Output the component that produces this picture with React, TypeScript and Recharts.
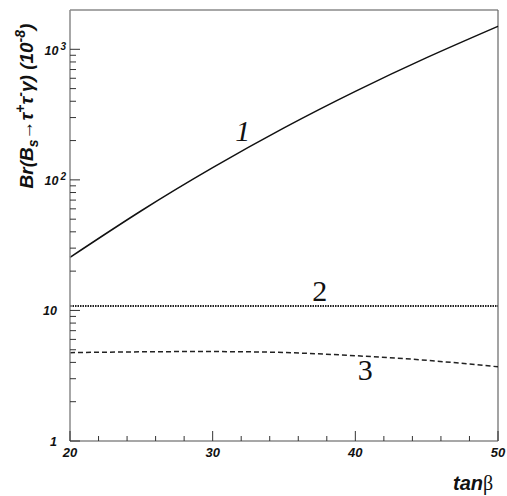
import React from 'react';
import {
  LineChart,
  Line,
  XAxis,
  YAxis,
  ReferenceLine,
  ReferenceDot,
} from 'recharts';

// values (log scale, units of 1e-8)
const tanBeta = [20, 25, 30, 35, 40, 45, 50];
const curve1 = [25.5, 58, 124, 250, 476, 863, 1500];
const curve2 = [10.8, 10.8, 10.8, 10.8, 10.8, 10.8, 10.8];
const curve3 = [4.75, 4.82, 4.84, 4.76, 4.5, 4.15, 3.7];

const xTicks = [20, 22, 24, 26, 28, 30, 32, 34, 36, 38, 40, 42, 44, 46, 48, 50];
const yTicks = [
  1, 2, 3, 4, 5, 6, 7, 8, 9,
  10, 20, 30, 40, 50, 60, 70, 80, 90,
  100, 200, 300, 400, 500, 600, 700, 800, 900,
  1000,
];

const curveLabels = [
  { text: '1', x: 32.1, y: 237, italic: true },
  { text: '2', x: 37.5, y: 14.2, italic: false },
  { text: '3', x: 40.7, y: 3.48, italic: false },
];

const data = tanBeta.map((t, i) => ({
  tanb: t,
  c1: curve1[i],
  c2: curve2[i],
  c3: curve3[i],
}));

const SANS = "Arial, 'Liberation Sans', sans-serif";
const SERIF = "'Times New Roman', 'Liberation Serif', serif";
const AXIS = '#8a8a8a';
const TICK = '#333';

function YTick(props: any) {
  const { x, y, payload } = props;
  const v = payload.value;
  const exp = Math.round(Math.log10(v));
  const major = Math.abs(v - Math.pow(10, exp)) < 1e-6;
  return (
    <g>
      <line x1={x} x2={x + (major ? 10 : 6)} y1={y} y2={y} stroke={TICK} strokeWidth={1} />
      {major && exp <= 1 && (
        <text
          x={x - 13}
          y={y + 4.5}
          textAnchor="end"
          fontFamily={SANS}
          fontWeight="bold"
          fontStyle="italic"
          fontSize={12.5}
          fill="#111"
        >
          {exp === 0 ? '1' : '10'}
        </text>
      )}
      {major && exp > 1 && (
        <text
          x={x - 4}
          y={y + 5.5}
          textAnchor="end"
          fontFamily={SANS}
          fontWeight="bold"
          fontStyle="italic"
          fontSize={12.5}
          fill="#111"
        >
          10
          <tspan dx={2} dy={-5} fontSize={10}>
            {exp}
          </tspan>
        </text>
      )}
    </g>
  );
}

function XTick(props: any) {
  const { x, y, payload } = props;
  const major = payload.value % 10 === 0;
  return (
    <g>
      <line x1={x} x2={x} y1={y} y2={y - (major ? 10 : 5)} stroke={TICK} strokeWidth={1} />
      {major && (
        <text
          x={x}
          y={y + 16}
          textAnchor="middle"
          fontFamily={SANS}
          fontWeight="bold"
          fontStyle="italic"
          fontSize={13}
          fill="#111"
        >
          {payload.value}
        </text>
      )}
    </g>
  );
}

function YTitle() {
  const cx = 33;
  const cy = 106;
  return (
    <text
      x={cx}
      y={cy}
      transform={`rotate(-90, ${cx}, ${cy})`}
      textAnchor="middle"
      fontFamily={SANS}
      fontWeight="bold"
      fontStyle="italic"
      fontSize={19}
      fill="#111"
    >
      Br(B
      <tspan dy={5} fontSize={14}>s</tspan>
      <tspan dy={-5}>{'\u2192\u03c4'}</tspan>
      <tspan dy={-8} fontSize={14}>+</tspan>
      <tspan dy={8}>{'\u03c4'}</tspan>
      <tspan dy={-8} fontSize={14}>-</tspan>
      <tspan dy={8}>{'\u03b3) (10'}</tspan>
      <tspan dy={-8} fontSize={14}>-8</tspan>
      <tspan dy={8}>)</tspan>
    </text>
  );
}

function XTitle() {
  return (
    <text x={453} y={490} fontSize={20} fill="#111">
      <tspan fontFamily={SANS} fontWeight="bold" fontStyle="italic">tan</tspan>
      <tspan fontFamily={SERIF}>{'\u03b2'}</tspan>
    </text>
  );
}

export default function App() {
  return (
    <div style={{ position: 'absolute', left: 0, top: 0, background: '#fff' }}>
      <LineChart
        width={507}
        height={496}
        data={data}
        margin={{ top: 10, right: 9, left: 0, bottom: 0 }}
      >
        <XAxis
          dataKey="tanb"
          type="number"
          domain={[20, 50]}
          ticks={xTicks}
          interval={0}
          height={55}
          tickSize={0}
          tickMargin={0}
          stroke={AXIS}
          strokeWidth={1.5}
          tick={<XTick />}
          label={{ content: () => <XTitle /> }}
        />
        <YAxis
          type="number"
          scale="log"
          domain={[1, 2000]}
          allowDataOverflow
          ticks={yTicks}
          interval={0}
          width={70}
          tickSize={0}
          tickMargin={0}
          stroke={AXIS}
          strokeWidth={1.5}
          tick={<YTick />}
          label={{ content: () => <YTitle /> }}
        />
        <ReferenceLine y={2000} stroke={AXIS} strokeWidth={1.5} />
        <ReferenceLine x={50} stroke="#666" strokeWidth={1.2} />
        <Line
          type="natural"
          dataKey="c1"
          stroke="#111"
          strokeWidth={1.5}
          dot={false}
          isAnimationActive={false}
        />
        <Line
          type="monotone"
          dataKey="c2"
          stroke="#222"
          strokeWidth={2}
          strokeDasharray="1.5 1"
          dot={false}
          isAnimationActive={false}
        />
        <Line
          type="natural"
          dataKey="c3"
          stroke="#222"
          strokeWidth={1.5}
          strokeDasharray="5 3"
          dot={false}
          isAnimationActive={false}
        />
        {curveLabels.map((l) => (
          <ReferenceDot
            key={l.text}
            x={l.x}
            y={l.y}
            r={0}
            fill="none"
            stroke="none"
            label={{
              content: (p: any) => (
                <text
                  x={p.viewBox.x}
                  y={p.viewBox.y + 10}
                  textAnchor="middle"
                  fontFamily={SERIF}
                  fontStyle={l.italic ? 'italic' : 'normal'}
                  fontSize={30}
                  fill="#111"
                >
                  {l.text}
                </text>
              ),
            }}
          />
        ))}
      </LineChart>
    </div>
  );
}
